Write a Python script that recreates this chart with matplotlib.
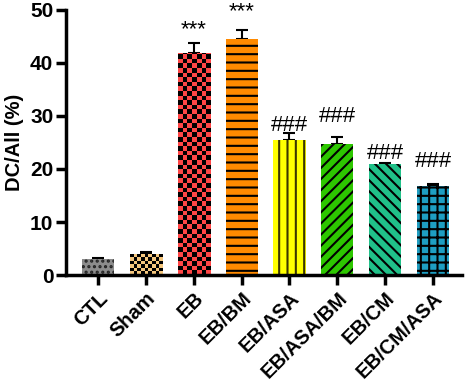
import numpy as np
import matplotlib
matplotlib.use('Agg')
import matplotlib.pyplot as plt
from matplotlib.colors import ListedColormap

# ==========================================
# Data
# ==========================================
groups = ['CTL', 'Sham', 'EB', 'EB/BM', 'EB/ASA', 'EB/ASA/BM', 'EB/CM', 'EB/CM/ASA']
means = [3.0, 3.9, 41.9, 44.6, 25.5, 24.7, 20.9, 16.8]
errs = [0.15, 0.4, 1.9, 1.6, 1.2, 1.3, 0.3, 0.3]
sig_labels = ['', '', '***', '***', '###', '###', '###', '###']
sig_y = [0, 0, 45.2, 48.6, 27.1, 28.8, 21.9, 20.3]

colors = ['#8c8c8c', '#f5c77e', '#ff4646', '#ff8a00', '#ffff00',
          '#2dc700', '#20c189', '#1e9ec2']
hatches = ['...', None, None, '--', '||', '///', '\\\\\\', '++']
hatch_cols = ['#222222', 'black', 'black', 'black', '#3a3500',
              'black', 'black', 'black']
# checker patterns drawn as clipped images: (columns across bar)
checker = {1: 9, 2: 7}

plt.rcParams['font.family'] = ['Liberation Sans', 'DejaVu Sans']
plt.rcParams['hatch.linewidth'] = 1.5

fig = plt.figure(figsize=(4.67, 3.82), dpi=100)
ax = fig.add_axes([0.141, 0.280, 0.848, 0.694])

x = np.arange(len(groups))
bars = []
for i in range(len(groups)):
    b = ax.bar(x[i], means[i], width=0.67, color=colors[i],
               edgecolor=hatch_cols[i], linewidth=0, hatch=hatches[i], zorder=2)
    bars.append(b[0])

ax.errorbar(x, means, yerr=[np.zeros(len(errs)), errs], fmt='none',
            ecolor='black', elinewidth=1.5, capsize=4.5, capthick=1.5, zorder=1)

ax.set_xlim(-0.67, 7.6)
ax.set_ylim(0, 50)

# checkerboard fills for Sham and EB
fig.canvas.draw()
px_x = ax.transData.transform((1, 0))[0] - ax.transData.transform((0, 0))[0]
px_y = ax.transData.transform((0, 1))[1] - ax.transData.transform((0, 0))[1]
for i, ncol in checker.items():
    p = bars[i]
    x0, y0, w, h = p.get_x(), p.get_y(), p.get_width(), p.get_height()
    cw = w / ncol
    ch = cw * px_x / px_y
    nrow = int(np.ceil(h / ch))
    r, c = np.indices((nrow, ncol))
    board = (r + c) % 2
    im = ax.imshow(board, cmap=ListedColormap([colors[i], 'black']),
                   extent=[x0, x0 + w, y0, y0 + nrow * ch], origin='lower',
                   interpolation='nearest', aspect='auto', zorder=2)
    im.set_clip_path(p)

ax.set_xlim(-0.67, 7.6)
ax.set_ylim(0, 50)

for i, lab in enumerate(sig_labels):
    if lab:
        ax.text(x[i], sig_y[i], lab, ha='center', va='baseline',
                fontsize=16, clip_on=False)

for s in ['top', 'right']:
    ax.spines[s].set_visible(False)
for s in ['left', 'bottom']:
    ax.spines[s].set_linewidth(2.5)

ax.set_yticks([0, 10, 20, 30, 40, 50])
ax.set_xticks(x)
ax.set_xticklabels(groups, rotation=45, ha='right', rotation_mode='anchor')
ax.tick_params(axis='y', length=7, width=2.5, labelsize=15, pad=2)
ax.tick_params(axis='x', length=7, width=2.5, labelsize=14.5, pad=3)
for t in ax.get_xticklabels() + ax.get_yticklabels():
    t.set_fontweight('bold')
ax.set_ylabel('DC/All (%)', fontsize=14.5, fontweight='bold', labelpad=4)

fig.savefig('out.png', dpi=100)
